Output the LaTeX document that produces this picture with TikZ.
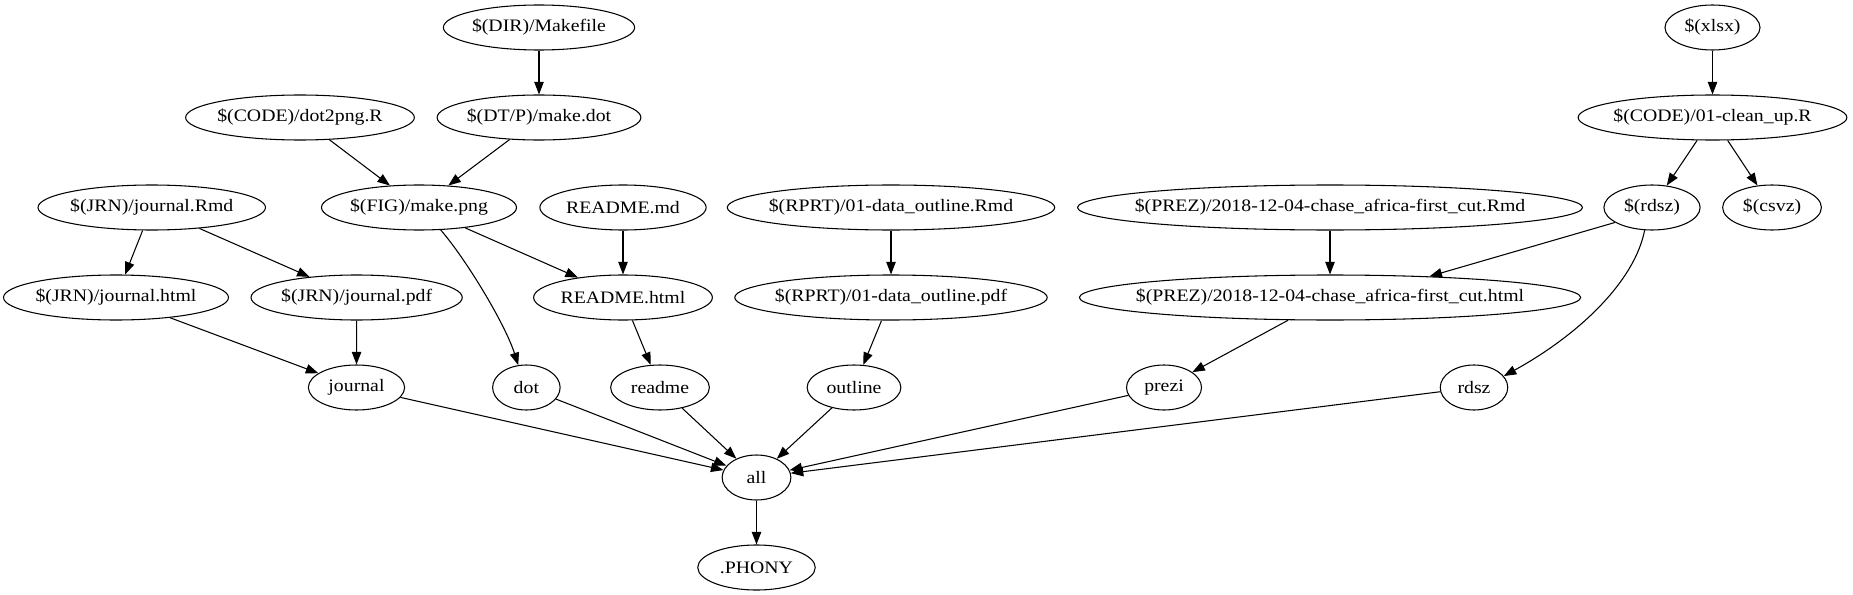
\documentclass[tikz,border=0pt]{standalone}
\usepackage{fontspec}
\setmainfont{Liberation Serif}[FakeStretch=1.13]
\usetikzlibrary{shapes.geometric,arrows.meta}
\newcommand\lbl[1]{\makebox[0pt]{#1}}
\tikzset{
  nd/.style={draw, ellipse, inner sep=0pt, minimum height=36pt, line width=0.85pt,
             font=\fontsize{14pt}{16pt}\selectfont},
  arr/.style={line width=0.85pt, -{Triangle[length=10pt,width=7.5pt]}}
}
\begin{document}
\begin{tikzpicture}[x=1pt,y=-1pt]
\path[use as bounding box] (0,0) rectangle (1482.4,476);
% row 1
\node[nd, minimum width=153pt] (makefile) at (431.2,22) {\lbl{\$(DIR)/Makefile}};
\node[nd, minimum width=76pt] (xlsx) at (1370,22) {\lbl{\$(xlsx)}};
% row 2
\node[nd, minimum width=183pt] (dotR) at (240,94) {\lbl{\$(CODE)/dot2png.R}};
\node[nd, minimum width=163pt] (mkdot) at (431.2,94) {\lbl{\$(DT/P)/make.dot}};
\node[nd, minimum width=215pt] (clean) at (1370,94) {\lbl{\$(CODE)/01-clean\_up.R}};
% row 3
\node[nd, minimum width=182pt] (jrmd) at (121.4,166) {\lbl{\$(JRN)/journal.Rmd}};
\node[nd, minimum width=156pt] (mkpng) at (335.2,166) {\lbl{\$(FIG)/make.png}};
\node[nd, minimum width=133pt] (rmd) at (498.4,166) {\lbl{README.md}};
\node[nd, minimum width=262pt] (rprtRmd) at (712.8,166) {\lbl{\$(RPRT)/01-data\_outline.Rmd}};
\node[nd, minimum width=404pt] (prezRmd) at (1064,166) {\lbl{\$(PREZ)/2018-12-04-chase\_africa-first\_cut.Rmd}};
\node[nd, minimum width=77pt] (rdszv) at (1321.6,166) {\lbl{\$(rdsz)}};
\node[nd, minimum width=79pt] (csvz) at (1417.6,166) {\lbl{\$(csvz)}};
% row 4
\node[nd, minimum width=180pt] (jhtml) at (92.8,238) {\lbl{\$(JRN)/journal.html}};
\node[nd, minimum width=169pt] (jpdf) at (285.3,238) {\lbl{\$(JRN)/journal.pdf}};
\node[nd, minimum width=143pt] (rhtml) at (498.4,238) {\lbl{README.html}};
\node[nd, minimum width=250pt] (rprtpdf) at (712.8,238) {\lbl{\$(RPRT)/01-data\_outline.pdf}};
\node[nd, minimum width=401pt] (prezhtml) at (1064,238) {\lbl{\$(PREZ)/2018-12-04-chase\_africa-first\_cut.html}};
% row 5
\node[nd, minimum width=77pt] (journal) at (285.2,310) {\lbl{journal}};
\node[nd, minimum width=54pt] (dot) at (421.1,310) {\lbl{dot}};
\node[nd, minimum width=79pt] (readme) at (528,310) {\lbl{readme}};
\node[nd, minimum width=75pt] (outline) at (683.2,310) {\lbl{outline}};
\node[nd, minimum width=60pt] (prezi) at (931.2,310) {\lbl{prezi}};
\node[nd, minimum width=54pt] (rdsz) at (1179.2,310) {\lbl{rdsz}};
% row 6, 7
\node[nd, minimum width=55pt] (all) at (605.2,382) {\lbl{all}};
\node[nd, minimum width=94pt] (phony) at (605.2,454) {\lbl{.PHONY}};
% edges
\draw[arr] (makefile) -- (mkdot);
\draw[arr] (xlsx) -- (clean);
\draw[arr] (dotR) -- (mkpng);
\draw[arr] (mkdot) -- (mkpng);
\draw[arr] (clean) -- (rdszv);
\draw[arr] (clean) -- (csvz);
\draw[arr] (jrmd) -- (jhtml);
\draw[arr] (jrmd) -- (jpdf);
\draw[arr] (mkpng) -- (rhtml);
\draw[arr] (mkpng.-46) .. controls +(20,23) and +(-10.5,-33) .. (dot.110);
\draw[arr] (rmd) -- (rhtml);
\draw[arr] (rprtRmd) -- (rprtpdf);
\draw[arr] (prezRmd) -- (prezhtml);
\draw[arr] (rdszv.202) -- (prezhtml.12);
\draw[arr] (rdszv.252) .. controls +(-8,41) and +(60,-33) .. (rdsz.21);
\draw[arr] (jhtml) -- (journal);
\draw[arr] (jpdf) -- (journal);
\draw[arr] (rhtml) -- (readme);
\draw[arr] (rprtpdf) -- (outline);
\draw[arr] (prezhtml) -- (prezi);
\draw[arr] (journal) -- (all);
\draw[arr] (dot) -- (all);
\draw[arr] (readme) -- (all);
\draw[arr] (outline) -- (all);
\draw[arr] (prezi) -- (all);
\draw[arr] (rdsz) -- (all);
\draw[arr] (all) -- (phony);
\end{tikzpicture}
\end{document}
